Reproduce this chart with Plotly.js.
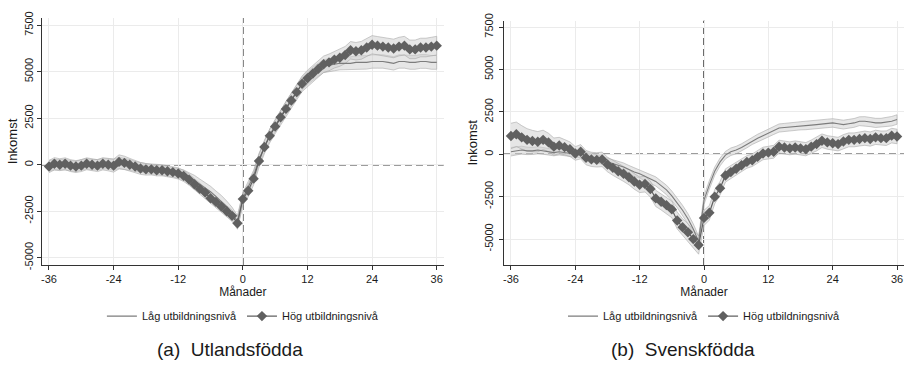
<!DOCTYPE html>
<html>
<head>
<meta charset="utf-8">
<script src="https://cdn.plot.ly/plotly-3.0.1.min.js"></script>
<style>
html,body{margin:0;padding:0;background:#fff;}
#chart{width:905px;height:368px;}
</style>
</head>
<body>
<div id="chart"></div>
<script>
// ---- Data ----
const months = [-36,-35,-34,-33,-32,-31,-30,-29,-28,-27,-26,-25,-24,-23,-22,-21,-20,-19,-18,-17,-16,-15,-14,-13,-12,-11,-10,-9,-8,-7,-6,-5,-4,-3,-2,-1,0,1,2,3,4,5,6,7,8,9,10,11,12,13,14,15,16,17,18,19,20,21,22,23,24,25,26,27,28,29,30,31,32,33,34,35,36];

const xTickVals = [-36,-24,-12,0,12,24,36];
const xTickText = ["-36","-24","-12","0","12","24","36"];
const yTickVals = [-5000,-2500,0,2500,5000,7500];
const yTickText = ["-5000","-2500","0","2500","5000","7500"];

const seriesNames = ["Låg utbildningsnivå","Hög utbildningsnivå"];
const panelTitles = ["(a)  Utlandsfödda","(b)  Svenskfödda"];

// (a) Utlandsfödda
const leftLag = [-50,0,0,0,-50,-100,0,50,0,0,50,50,0,
  100,50,0,-100,-150,-200,-250,-250,-300,-350,-400,-450,-550,-700,-850,-1050,-1250,-1450,-1700,-1950,-2250,-2600,-3050,
  -1800,-1200,-600,300,1000,1600,2100,2600,3050,3500,3950,4350,4650,4900,5100,5300,5350,5400,5450,5450,5450,5500,5500,5500,5550,5550,5550,5500,5450,5550,5550,5500,5500,5550,5550,5500,5500];
const leftHog = [-100,50,0,50,-50,-100,-50,50,0,-50,50,0,-50,
  150,100,0,-100,-200,-250,-250,-300,-300,-350,-400,-470,-600,-800,-1050,-1300,-1500,-1800,-2000,-2250,-2500,-2750,-3150,
  -1850,-1400,-750,200,950,1550,2050,2550,3000,3450,3900,4350,4650,4900,5150,5400,5500,5650,5750,5900,6150,6100,6150,6300,6450,6400,6350,6300,6250,6350,6400,6200,6200,6300,6300,6350,6400];
const leftLagCI = [280,280,280,280,280,280,280,280,280,280,280,280,300,
  300,290,280,270,260,260,260,260,260,260,260,260,270,270,280,280,280,290,290,300,300,310,320,
  300,300,300,310,310,320,320,330,330,330,340,340,340,350,350,350,350,350,350,350,350,360,360,360,360,360,360,360,360,360,360,370,370,370,370,370,370];
const leftHogCI = [330,330,320,320,320,320,320,320,320,320,330,330,350,
  380,360,340,330,320,310,300,300,300,300,300,300,300,300,300,300,300,300,300,300,300,300,320,
  320,330,340,350,360,370,380,390,400,400,410,420,430,430,440,440,450,450,460,460,470,470,480,480,490,490,490,500,500,500,500,500,500,500,500,500,500];

// (b) Svenskfödda
const rightLag = [150,200,250,200,200,250,200,150,100,150,100,50,0,
  0,-100,-150,-250,-350,-450,-550,-650,-750,-900,-1050,-1150,-1300,-1450,-1600,-1850,-2100,-2450,-2850,-3300,-3800,-4400,-5150,
  -2700,-1800,-1000,-450,-50,150,250,400,600,800,950,1100,1250,1400,1550,1580,1600,1650,1680,1700,1720,1750,1780,1820,1850,1800,1750,1800,1850,1950,1950,1900,1850,1850,1900,1950,2050];
const rightHog = [1080,1180,1000,850,780,740,850,700,450,520,420,300,50,
  150,-200,-300,-330,-300,-600,-800,-1000,-1150,-1350,-1600,-1800,-1750,-2050,-2600,-2800,-3000,-3250,-3900,-4300,-4600,-5000,-5350,
  -3750,-3450,-2500,-2000,-1250,-1050,-850,-650,-450,-350,-150,50,100,150,450,400,350,400,350,300,450,600,800,700,650,600,750,850,850,900,950,900,1000,950,950,1100,1050];
const rightLagCI = [250,240,230,220,210,200,200,200,190,190,180,180,170,
  200,200,210,210,220,220,230,230,240,240,250,250,260,260,270,270,280,280,290,290,300,300,320,
  260,250,240,230,220,220,220,220,220,220,230,230,230,230,240,240,240,240,240,250,250,250,250,250,250,260,260,260,260,260,270,270,270,270,270,280,280];
const rightHogCI = [750,720,690,660,630,600,570,540,510,480,450,430,400,
  420,420,420,420,430,430,440,440,450,450,460,460,470,470,480,480,490,490,500,500,510,520,540,
  450,430,420,400,390,380,380,370,370,370,370,370,370,380,380,380,380,390,390,390,390,400,400,400,400,400,410,410,410,410,420,420,420,420,430,430,430];

// ---- Styles ----
const FONT = "Liberation Sans, Arial, Helvetica, sans-serif";
const TXT = "#1a1a1a";
const bandFill = "rgba(205,205,205,0.5)";
const bandLine = "rgba(165,165,165,0.8)";
const lagColor = "#7c7c7c";
const hogColor = "#606060";

function band(x, y, ci, xa, ya) {
  const up = y.map((v, i) => v + ci[i]);
  const lo = y.map((v, i) => v - ci[i]);
  return {
    x: x.concat(x.slice().reverse()),
    y: up.concat(lo.slice().reverse()),
    xaxis: xa, yaxis: ya,
    type: "scatter", mode: "lines",
    fill: "toself", fillcolor: bandFill,
    line: {color: bandLine, width: 0.7},
    hoverinfo: "skip", showlegend: false
  };
}
function lagTrace(x, y, xa, ya, leg) {
  return {x: x, y: y, xaxis: xa, yaxis: ya, type: "scatter", mode: "lines",
    name: seriesNames[0], legend: leg,
    line: {color: lagColor, width: 1.1}};
}
function hogTrace(x, y, xa, ya, leg) {
  return {x: x, y: y, xaxis: xa, yaxis: ya, type: "scatter", mode: "lines+markers",
    name: seriesNames[1], legend: leg,
    line: {color: hogColor, width: 1.2},
    marker: {symbol: "diamond", size: 8, color: hogColor}};
}

const data = [
  band(months, leftLag, leftLagCI, "x", "y"),
  band(months, leftHog, leftHogCI, "x", "y"),
  lagTrace(months, leftLag, "x", "y", "legend"),
  hogTrace(months, leftHog, "x", "y", "legend"),
  band(months, rightLag, rightLagCI, "x2", "y2"),
  band(months, rightHog, rightHogCI, "x2", "y2"),
  lagTrace(months, rightLag, "x2", "y2", "legend2"),
  hogTrace(months, rightHog, "x2", "y2", "legend2")
];

function xAxis(domain, anchor) {
  return {
    domain: domain, anchor: anchor, range: [-37.3, 37.3],
    tickmode: "array", tickvals: xTickVals, ticktext: xTickText,
    showgrid: true, gridcolor: "#ebebeb", gridwidth: 1,
    zeroline: false, showline: true, linecolor: "#333", linewidth: 1,
    ticks: "outside", ticklen: 4, tickcolor: "#333",
    tickfont: {family: FONT, size: 11, color: TXT},
    title: {text: "Månader", standoff: 0, font: {family: FONT, size: 12, color: TXT}},
    fixedrange: true
  };
}
function yAxis(domain, anchor, range, standoff) {
  return {
    domain: domain, anchor: anchor, range: range,
    tickmode: "array", tickvals: yTickVals, ticktext: yTickText, tickangle: -90,
    showgrid: true, gridcolor: "#ebebeb", gridwidth: 1,
    zeroline: false, showline: true, linecolor: "#333", linewidth: 1,
    ticks: "outside", ticklen: 4, tickcolor: "#333",
    ticklabelstandoff: standoff,
    tickfont: {family: FONT, size: 11, color: TXT},
    title: {text: "Inkomst", standoff: 2, font: {family: FONT, size: 13, color: TXT}},
    fixedrange: true
  };
}
function refLines(xr, yr) {
  const dashLine = {color: "#3a3a3a", width: 1.5, dash: "7px,4px"};
  return [
    {type: "line", layer: "below", xref: xr, yref: yr + " domain", x0: 0, x1: 0, y0: 0, y1: 1, line: dashLine},
    {type: "line", layer: "below", xref: xr + " domain", yref: yr, x0: 0, x1: 1, y0: 0, y1: 0, line: dashLine}
  ];
}

const legendBase = {
  orientation: "h", xref: "paper", yref: "paper", xanchor: "center", yanchor: "middle",
  y: 0.141, bgcolor: "rgba(0,0,0,0)", borderwidth: 0,
  font: {family: FONT, size: 11, color: TXT}, itemwidth: 30
};

const layout = {
  width: 905, height: 368,
  margin: {l: 0, r: 0, t: 0, b: 0},
  paper_bgcolor: "#ffffff", plot_bgcolor: "#ffffff",
  font: {family: FONT, color: TXT},
  showlegend: true,
  xaxis: xAxis([0.0464, 0.4903], "y"),
  yaxis: yAxis([0.2799, 0.9511], "x", [-5392, 7887], 0),
  xaxis2: xAxis([0.5569, 0.9989], "y2"),
  yaxis2: yAxis([0.2799, 0.9438], "x2", [-6527, 7877], 2),
  legend: Object.assign({}, legendBase, {x: 0.2684}),
  legend2: Object.assign({}, legendBase, {x: 0.7779}),
  shapes: refLines("x", "y").concat(refLines("x2", "y2")),
  annotations: [
    {text: panelTitles[0], xref: "paper", yref: "paper", x: 0.2541, y: 0.049, xanchor: "center", yanchor: "middle",
     showarrow: false, font: {family: FONT, size: 19, color: TXT}},
    {text: panelTitles[1], xref: "paper", yref: "paper", x: 0.7547, y: 0.049, xanchor: "center", yanchor: "middle",
     showarrow: false, font: {family: FONT, size: 19, color: TXT}}
  ]
};

Plotly.newPlot("chart", data, layout, {displayModeBar: false, staticPlot: true});
</script>
</body>
</html>
